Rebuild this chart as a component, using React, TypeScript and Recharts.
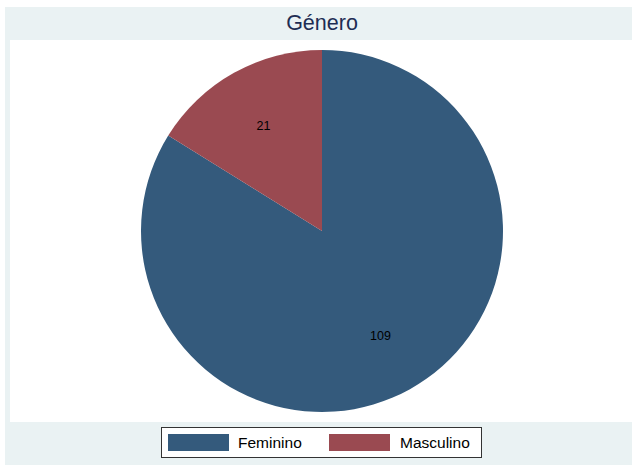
import React from 'react'
import { PieChart, Pie, Cell, Legend } from 'recharts'

const categories = ['Feminino', 'Masculino']
const counts = [109, 21]
const colors = ['#345A7C', '#9A4A51']

const pieData = categories.map((name, i) => ({ name, value: counts[i] }))

const FONT = '"Liberation Sans", Arial, Helvetica, sans-serif'
const RADIAN = Math.PI / 180

const renderLabel = (props: any) => {
  const { cx, cy, midAngle, outerRadius, value } = props
  const r = outerRadius * 0.665
  const x = cx + r * Math.cos(-midAngle * RADIAN)
  const y = cy + r * Math.sin(-midAngle * RADIAN)
  return (
    <text
      x={x}
      y={y}
      fill="#000"
      fontSize={12.5}
      fontFamily={FONT}
      textAnchor="middle"
      dominantBaseline="central"
    >
      {value}
    </text>
  )
}

const renderLegend = () => (
  <div
    style={{
      boxSizing: 'border-box',
      width: 321,
      height: 31,
      border: '1px solid #333',
      background: '#fff',
      position: 'relative',
      fontFamily: FONT,
      fontSize: 15.5,
      color: '#000',
    }}
  >
    {categories.map((c, i) => (
      <React.Fragment key={c}>
        <div
          style={{
            position: 'absolute',
            left: i === 0 ? 6 : 167,
            top: 6,
            width: 61,
            height: 17,
            background: colors[i],
          }}
        />
        <div
          style={{
            position: 'absolute',
            left: i === 0 ? 76 : 238,
            top: 5,
            lineHeight: '19px',
          }}
        >
          {c}
        </div>
      </React.Fragment>
    ))}
  </div>
)

export default function App() {
  return (
    <div style={{ position: 'absolute', left: 0, top: 0, width: 632, height: 465, background: '#fff' }}>
      <div style={{ position: 'absolute', left: 5, top: 7, width: 627, height: 458, background: '#EAF2F3' }} />
      <div style={{ position: 'absolute', left: 10, top: 40, width: 622, height: 382, background: '#fff' }} />
      <div
        style={{
          position: 'absolute',
          left: 5,
          top: 7,
          width: 634,
          height: 33,
          lineHeight: '33px',
          textAlign: 'center',
          fontFamily: FONT,
          fontSize: 21.5,
          color: '#1E2D53',
        }}
      >
        Género
      </div>
      <div style={{ position: 'absolute', left: 0, top: 0 }}>
        <PieChart width={632} height={465} margin={{ top: 0, right: 0, bottom: 0, left: 0 }}>
          <Pie
            data={pieData}
            dataKey="value"
            nameKey="name"
            cx={322}
            cy={231}
            outerRadius={181}
            startAngle={90}
            endAngle={-270}
            stroke="none"
            label={renderLabel}
            labelLine={false}
            isAnimationActive={false}
          >
            {pieData.map((d, i) => (
              <Cell key={d.name} fill={colors[i]} />
            ))}
          </Pie>
          <Legend
            content={renderLegend}
            wrapperStyle={{ position: 'absolute', left: 161, top: 427, width: 321, height: 31, bottom: 'auto' }}
          />
        </PieChart>
      </div>
    </div>
  )
}
